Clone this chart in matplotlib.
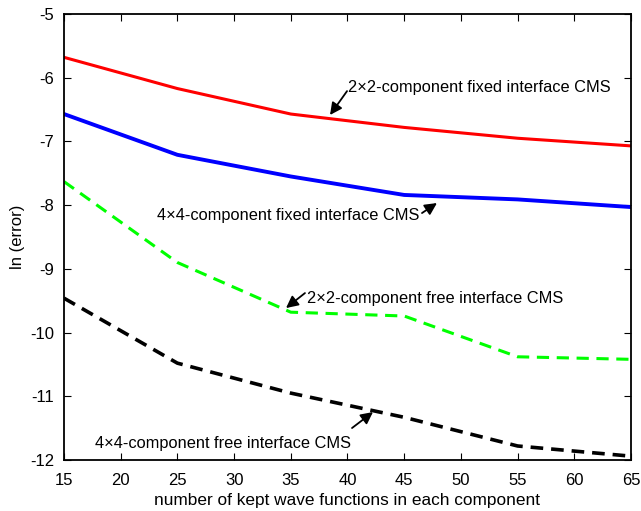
import matplotlib
matplotlib.use('Agg')
from matplotlib import pyplot as plt

plt.rcParams['font.family'] = ['Liberation Sans', 'DejaVu Sans']
plt.rcParams['axes.unicode_minus'] = False

## datos
n = [15, 25, 35, 45, 55, 65]

fixed_2x2 = [-5.68, -6.17, -6.57, -6.78, -6.95, -7.07]
fixed_4x4 = [-6.57, -7.21, -7.55, -7.84, -7.91, -8.03]
free_2x2 = [-7.63, -8.90, -9.68, -9.74, -10.38, -10.42]
free_4x4 = [-9.46, -10.48, -10.95, -11.33, -11.78, -11.94]

xticks = [15, 20, 25, 30, 35, 40, 45, 50, 55, 60, 65]
yticks = [-12, -11, -10, -9, -8, -7, -6, -5]

## figura
fig = plt.figure(figsize=(6.41, 5.11), dpi=100)
ax = fig.add_axes([0.0998, 0.0998, 0.8846, 0.8728])

ax.plot(n, fixed_2x2, color='#ff0000', lw=2.2)
ax.plot(n, fixed_4x4, color='#0000ff', lw=2.8)
ax.plot(n, free_2x2, color='#00ff00', lw=2.2, dashes=(4, 2.5))
ax.plot(n, free_4x4, color='k', lw=2.6, dashes=(3.5, 2.2))

ax.set_xlim(15, 65)
ax.set_ylim(-12, -5)
ax.set_xticks(xticks)
ax.set_yticks(yticks)
ax.tick_params(direction='in', top=True, right=True, labelsize=12, length=5, pad=7)
ax.tick_params(axis='x', pad=9)
for s in ax.spines.values():
    s.set_linewidth(1.3)

ax.set_xlabel('number of kept wave functions in each component', fontsize=12.4, labelpad=4)
ax.set_ylabel('ln (error)', fontsize=12)

## anotaciones
ap = dict(arrowstyle='-|>', color='k', lw=1.3, mutation_scale=18, shrinkA=0, shrinkB=0)
fs = 11.8

ax.text(40.04, -6.15, '2×2-component fixed interface CMS', fontsize=fs, va='center')
ax.annotate('', xy=(38.46, -6.585), xytext=(39.96, -6.21), arrowprops=ap)

ax.text(23.2, -8.155, '4×4-component fixed interface CMS', fontsize=fs, va='center')
ax.annotate('', xy=(47.89, -7.967), xytext=(46.57, -8.124), arrowprops=ap)

ax.text(36.43, -9.458, '2×2-component free interface CMS', fontsize=fs, va='center')
ax.annotate('', xy=(34.58, -9.615), xytext=(36.25, -9.38), arrowprops=ap)

ax.text(17.73, -11.734, '4×4-component free interface CMS', fontsize=fs, va='center')
ax.annotate('', xy=(42.25, -11.247), xytext=(40.40, -11.498), arrowprops=ap)

plt.savefig('out.png', dpi=100)
